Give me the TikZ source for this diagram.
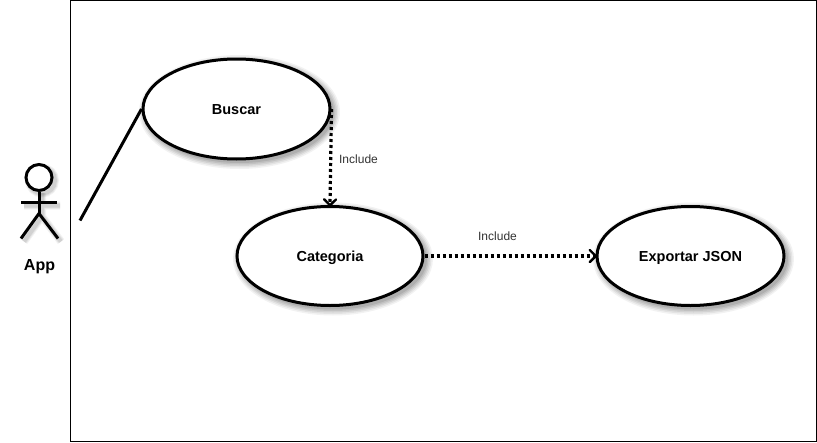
\documentclass[tikz,border=0pt]{standalone}
\usepackage{fontspec}
\setmainfont{Liberation Sans}
\usetikzlibrary{arrows.meta,shapes.geometric}
\tikzset{
  x=1pt,y=-1pt,
  usecase/.style={ellipse,draw=black,line width=3pt,fill=white,inner sep=0pt,text height=10pt,text depth=0pt,font=\fontsize{14.5}{16}\selectfont\bfseries,text=black},
  include/.style={line width=3.2pt,black,dash pattern=on 3pt off 3pt,-{Straight Barb[length=6pt,width=12pt,line width=2.4pt,round]},shorten >=-1.5pt},
  inclabel/.style={font=\fontsize{12}{14}\selectfont,text=black!80,inner sep=0pt},
  stick/.style={line width=3pt,black},
  frame/.style={draw=black,line width=1pt,fill=white}
}
\newcommand{\ovalshadow}[4]{%
  \foreach \g/\o in {7/.05,5.5/.06,4/.07,2.5/.08,1/.09}{
    \fill[black,opacity=\o] (#1+3,#2+3) ellipse [x radius=#3+\g,y radius=#4+\g];
  }}
\begin{document}
\begin{tikzpicture}
\useasboundingbox (0,0) rectangle (817,442);
\fill[white] (0,0) rectangle (817,442);
\node[frame,rectangle,inner sep=0pt,minimum width=746pt,minimum height=440.5pt,anchor=north west] (sys) at (70,0) {};
\ovalshadow{236.5}{109}{93.5}{50}
\ovalshadow{330}{256}{93}{49.5}
\ovalshadow{690.5}{256}{93.5}{49.5}
\node[usecase,minimum width=187pt,minimum height=100pt] (buscar) at (236.5,109) {Buscar};
\node[usecase,minimum width=186pt,minimum height=99pt] (categoria) at (330,256) {Categoria};
\node[usecase,minimum width=187pt,minimum height=99pt] (exportar) at (690.5,256) {Exportar JSON};
% actor shadow
\begin{scope}[shift={(3,3)}]
\foreach \w/\o in {8/.05,6/.06,4/.08}{
  \draw[black,opacity=\o,line width=\w pt] (39,177.5) circle [radius=13];
  \draw[black,opacity=\o,line width=\w pt] (39,190) -- (39,213.5) (21,202.5) -- (57,202.5) (21,238.5) -- (39,213.5) -- (58,238.5);
}
\end{scope}
\node[circle,draw=black,line width=3pt,fill=white,minimum size=26pt,inner sep=0pt] (head) at (39,177.5) {};
\coordinate (hip) at (39,213.5);
\coordinate (armL) at (21,202.5);
\coordinate (armR) at (57,202.5);
\coordinate (legL) at (21,238.5);
\coordinate (legR) at (58,238.5);
\draw[stick] (head.south) -- (hip);
\draw[stick] (armL) -- (armR);
\draw[stick] (legL) -- (hip) -- (legR);
\node[font=\fontsize{16}{18}\selectfont\bfseries,inner sep=0pt] (app) at (39.5,267) {App};
\coordinate (actorend) at (80,220.5);
\draw[stick] (actorend) -- (buscar.west);
\draw[include] (buscar.east) -- (categoria.north);
\draw[include] (categoria.east) -- (exportar.west);
\node[inclabel] (inc1) at (358.5,159) {Include};
\node[inclabel] (inc2) at (497.5,236) {Include};
\end{tikzpicture}
\end{document}
